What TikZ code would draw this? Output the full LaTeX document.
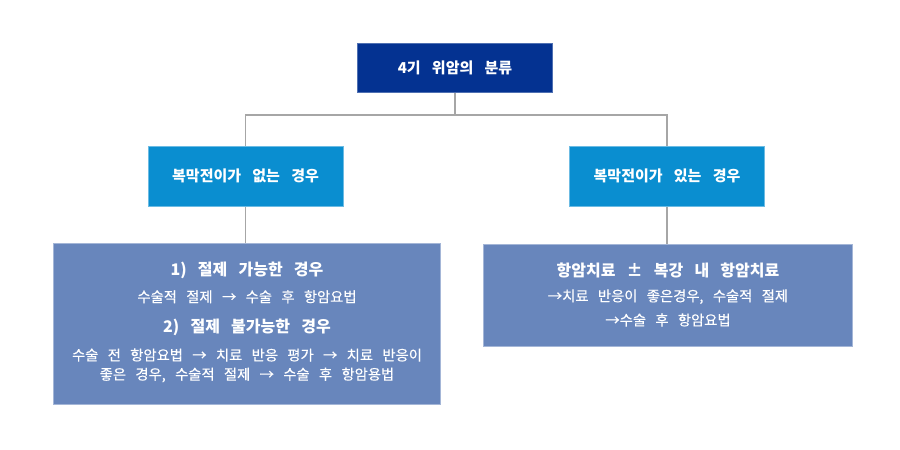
\documentclass[tikz,border=0pt]{standalone}
\usepackage{fontspec}
\setmainfont{Noto Sans CJK KR}
\newfontfamily\mybodyfam[FakeBold=0.35]{Noto Sans CJK KR}
\definecolor{navy}{HTML}{043291}
\definecolor{midblue}{HTML}{0A8ED0}
\definecolor{botblue}{HTML}{6886BC}
\definecolor{linegray}{HTML}{A6A6A6}
\newcommand\myhdfnt{\bfseries\fontsize{11.25pt}{13pt}\selectfont\spaceskip 0.75em\relax}
\newcommand\myttlfnt{\bfseries\fontsize{12pt}{14pt}\selectfont\spaceskip 0.7em\relax}
\newcommand\mybodyfnt{\mybodyfam\fontsize{10.75pt}{13pt}\selectfont\spaceskip 0.65em\relax}
\tikzset{
  pxbox/.style={rectangle, inner sep=0pt, line width=0.6pt},
  topbox/.style={pxbox, fill=navy, draw=navy!70!white},
  midbox/.style={pxbox, fill=midblue, draw=midblue!60!white},
  botbox/.style={pxbox, fill=botblue, draw=botblue!60!white},
  conn/.style={draw=linegray, line width=0.8pt},
  hdtext/.style={text=white, font={\myhdfnt}, inner sep=0pt},
  ttltext/.style={text=white, font={\myttlfnt}, inner sep=0pt},
  bodytext/.style={text=white, font={\mybodyfnt}, inner sep=0pt}
}
\begin{document}
\begin{tikzpicture}[x=0.75pt,y=-0.75pt]
\useasboundingbox[fill=white] (0,0) rectangle (900,450);
% boxes
\node[topbox, minimum width=195*0.75pt, minimum height=49.5*0.75pt] (top) at (455,67.75) {};
\node[midbox, minimum width=195*0.75pt, minimum height=60.5*0.75pt] (midL) at (245.5,176.25) {};
\node[midbox, minimum width=195*0.75pt, minimum height=60.5*0.75pt] (midR) at (667,176.25) {};
\node[botbox, minimum width=387.4*0.75pt, minimum height=161*0.75pt] (botL) at (247,323.8) {};
\node[botbox, minimum width=369*0.75pt, minimum height=102*0.75pt] (botR) at (668.1,295) {};
% connectors
\coordinate (j) at (455,115);
\draw[conn] (top.south) -- (j);
\draw[conn] (midL.north) |- (j) -| (midR.north);
\draw[conn] (midL.south) -- (midL.south |- botL.north);
\draw[conn] (midR.south) -- (midR.south |- botR.north);
% texts
\node[hdtext] (tTop) at (455,67.5) {4기 위암의 분류};
\node[hdtext] (tMidL) at (245.5,176) {복막전이가 없는 경우};
\node[hdtext] (tMidR) at (667,176) {복막전이가 있는 경우};
\node[ttltext] (l1) at (247,270.7) {1) 절제 가능한 경우};
\node[bodytext] (l2) at (247,296.7) {수술적 절제 → 수술 후 항암요법};
\node[ttltext] (l3) at (247,327.3) {2) 절제 불가능한 경우};
\node[bodytext] (l4) at (247,355) {수술 전 항암요법 → 치료 반응 평가 → 치료 반응이};
\node[bodytext] (l5) at (247,375) {좋은 경우, 수술적 절제 → 수술 후 항암용법};
\node[ttltext] (r1) at (668,270.7) {항암치료 ± 복강 내 항암치료};
\node[bodytext] (r2) at (668,296.7) {→치료 반응이 좋은경우, 수술적 절제};
\node[bodytext] (r3) at (668,320) {→수술 후 항암요법};
\end{tikzpicture}
\end{document}
